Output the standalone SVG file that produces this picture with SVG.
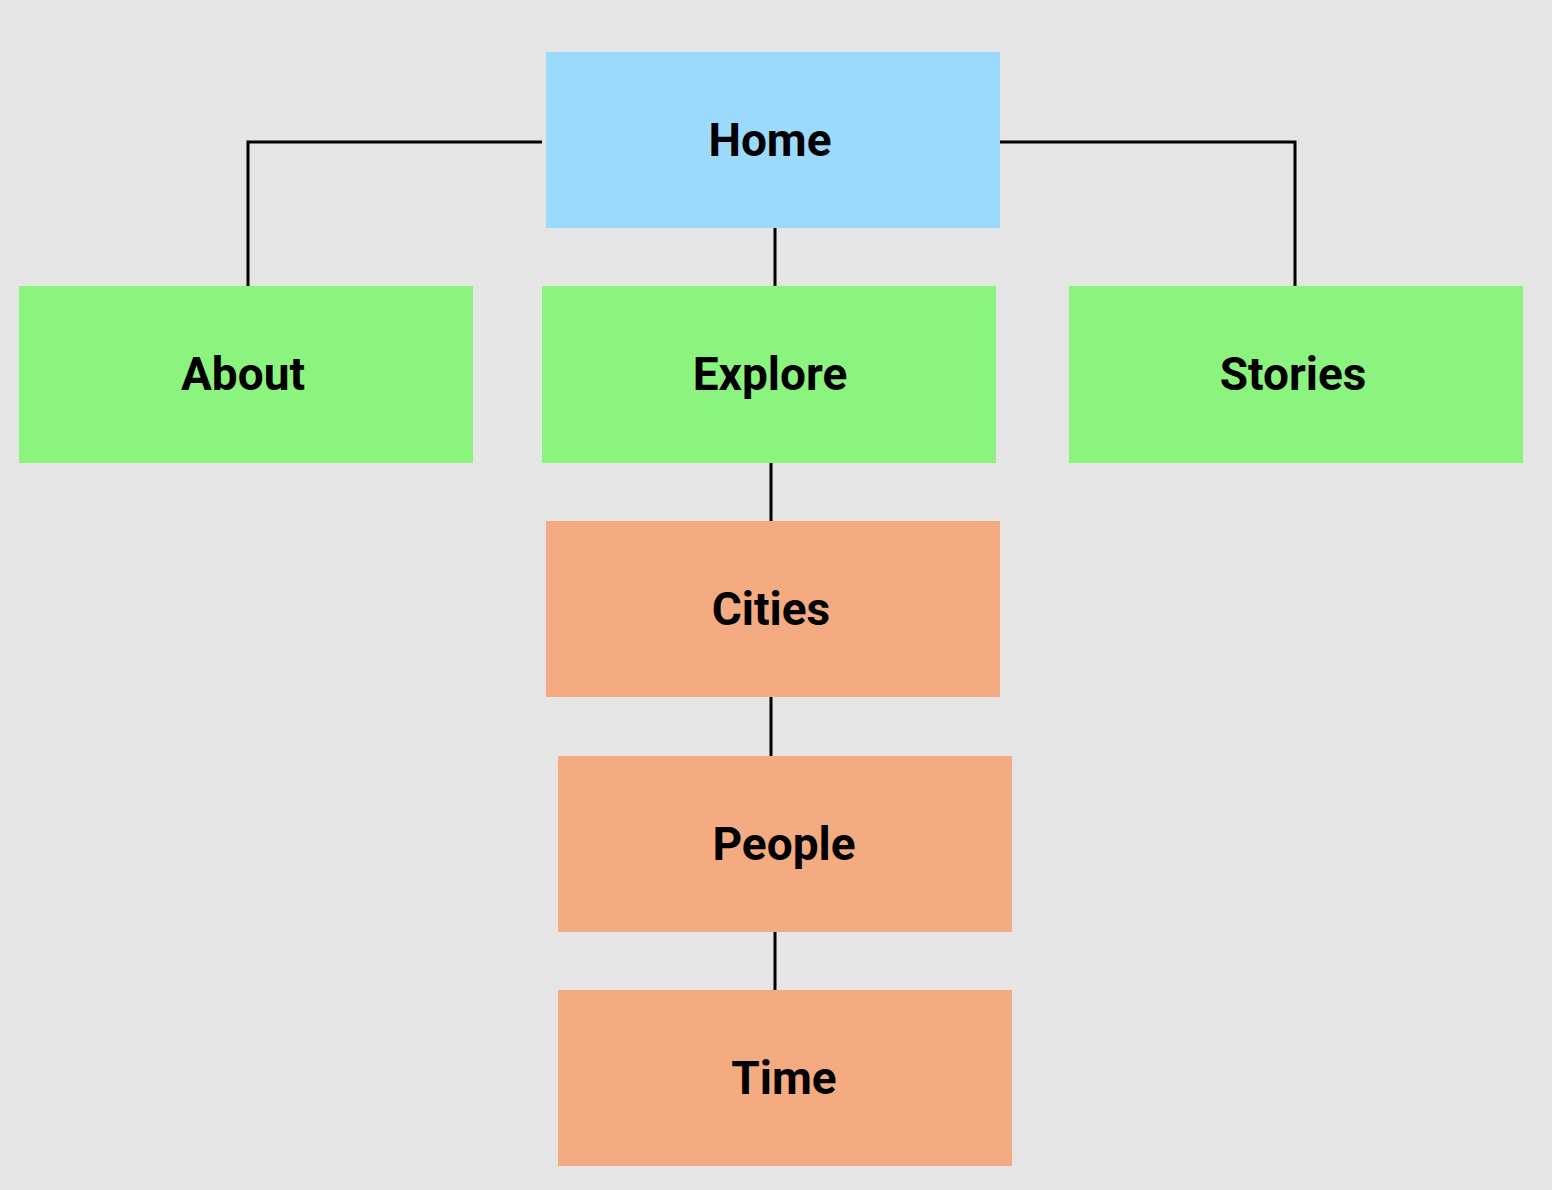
<svg xmlns="http://www.w3.org/2000/svg" width="1552" height="1190" viewBox="0 0 1552 1190">
<style>
.bg{fill:#e5e5e5}
.blue{fill:#9bdafc}
.green{fill:#8bf47f}
.orange{fill:#f5ab81}
.lbl{font-family:Roboto,"Liberation Sans",sans-serif;font-weight:bold;font-size:46px;fill:#000;text-anchor:middle}
.conn{fill:none;stroke:#000;stroke-width:3}
</style>
<rect class="bg" x="0" y="0" width="1552" height="1190"/>
<g id="connectors">
<polyline class="conn" points="542,142 248,142 248,286"/>
<polyline class="conn" points="1000,142 1295,142 1295,286"/>
<line class="conn" x1="775" y1="228" x2="775" y2="286"/>
<line class="conn" x1="771" y1="463" x2="771" y2="521"/>
<line class="conn" x1="771" y1="697" x2="771" y2="756"/>
<line class="conn" x1="775" y1="932" x2="775" y2="990"/>
</g>
<g id="home"><rect class="blue" x="546" y="52" width="454" height="176"/><text class="lbl" x="770" y="156">Home</text></g>
<g id="about"><rect class="green" x="19" y="286" width="454" height="177"/><text class="lbl" x="243" y="390">About</text></g>
<g id="explore"><rect class="green" x="542" y="286" width="454" height="177"/><text class="lbl" x="770" y="390">Explore</text></g>
<g id="stories"><rect class="green" x="1069" y="286" width="454" height="177"/><text class="lbl" x="1293" y="390">Stories</text></g>
<g id="cities"><rect class="orange" x="546" y="521" width="454" height="176"/><text class="lbl" x="771" y="625">Cities</text></g>
<g id="people"><rect class="orange" x="558" y="756" width="454" height="176"/><text class="lbl" x="784" y="860">People</text></g>
<g id="time"><rect class="orange" x="558" y="990" width="454" height="176"/><text class="lbl" x="784" y="1094">Time</text></g>
</svg>
